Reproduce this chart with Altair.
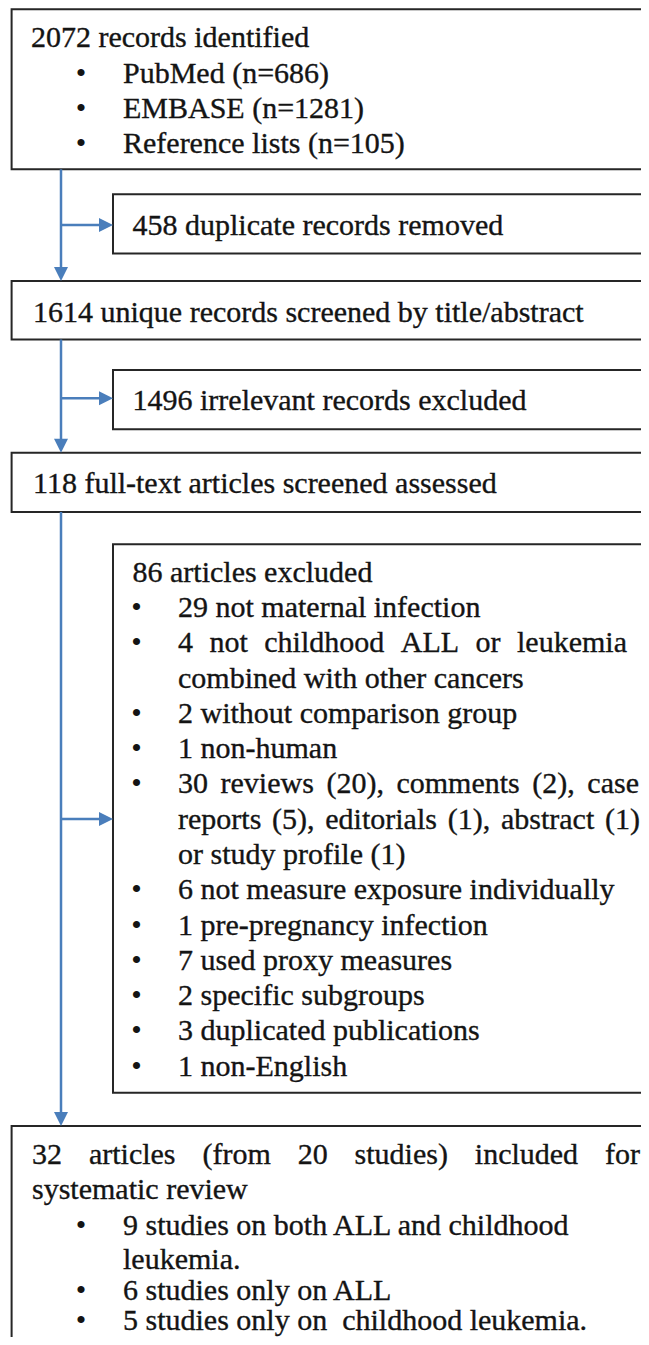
import altair as alt
import pandas as pd

# ---------------- content ----------------
records_title = "2072 records identified"
records_sources = ["PubMed (n=686)", "EMBASE (n=1281)", "Reference lists (n=105)"]
duplicates_text = "458 duplicate records removed"
screened_text = "1614 unique records screened by title/abstract"
irrelevant_text = "1496 irrelevant records excluded"
fulltext_text = "118 full-text articles screened assessed"
excluded_title = "86 articles excluded"
excluded_reasons = [
    ["29 not maternal infection"],
    ["4 not childhood ALL or leukemia", "combined with other cancers"],
    ["2 without comparison group"],
    ["1 non-human"],
    ["30 reviews (20), comments (2), case",
     "reports (5), editorials (1), abstract (1)",
     "or study profile (1)"],
    ["6 not measure exposure individually"],
    ["1 pre-pregnancy infection"],
    ["7 used proxy measures"],
    ["2 specific subgroups"],
    ["3 duplicated publications"],
    ["1 non-English"],
]
included_title = ["32 articles (from 20 studies) included for", "systematic review"]
included_groups = [
    ["9 studies on both ALL and childhood", "leukemia."],
    ["6 studies only on ALL"],
    ["5 studies only on\u00a0 childhood leukemia."],
]

# ---------------- layout (page pixels) ----------------
ORIGIN = 8
W, H = 633, 1329
FONT = "Liberation Serif"
FS = 30
TEXT_COLOR = "#141414"
BORDER = "#262626"
BLUE = "#4a7ebb"

# Times / Liberation Serif advance widths (per 1000 em)
TW = {" ": 250, "(": 333, ")": 333, ",": 250, ".": 250, "-": 333, "/": 278, "=": 564,
      "A": 722, "B": 667, "C": 667, "D": 722, "E": 611, "F": 556, "G": 722, "H": 722,
      "I": 333, "L": 611, "M": 889, "N": 722, "P": 556, "R": 667, "S": 556, "T": 611,
      "a": 444, "b": 500, "c": 444, "d": 500, "e": 444, "f": 333, "g": 500, "h": 500,
      "i": 278, "j": 278, "k": 500, "l": 278, "m": 778, "n": 500, "o": 500, "p": 500,
      "q": 500, "r": 333, "s": 389, "t": 278, "u": 500, "v": 500, "w": 722, "x": 500,
      "y": 500, "z": 444}


def text_width(s):
    return sum(TW.get(c, 500) for c in s) * FS / 1000.0


text_rows = []
bullet_rows = []


def add_line(s, x, y, justify_to=None):
    if justify_to is None:
        text_rows.append({"x": x - ORIGIN, "y": y - ORIGIN, "t": s})
        return
    words = s.split(" ")
    total = sum(text_width(w) for w in words)
    gap = (justify_to - x - total) / (len(words) - 1)
    cx = x
    for w in words:
        text_rows.append({"x": cx - ORIGIN, "y": y - ORIGIN, "t": w})
        cx += text_width(w) + gap


def add_bullet(x, y):
    bullet_rows.append({"x": x - ORIGIN, "y": y - ORIGIN, "t": "\u2022"})


# Box 1
add_line(records_title, 31, 47.3)
for i, s in enumerate(records_sources):
    yb = 82.7 + i * 35.1
    add_bullet(81, yb)
    add_line(s, 123, yb)

# single-line boxes
add_line(duplicates_text, 132.5, 235)
add_line(screened_text, 33, 321.7)
add_line(irrelevant_text, 132.5, 410)
add_line(fulltext_text, 33, 492.7)

# Box 6: exclusions
justify_ends = {"4 not childhood ALL or leukemia": 627,
                "30 reviews (20), comments (2), case": 639,
                "reports (5), editorials (1), abstract (1)": 640,
                "32 articles (from 20 studies) included for": 640}
add_line(excluded_title, 132.5, 581.7)
k = 1
for item in excluded_reasons:
    for j, s in enumerate(item):
        yb = 581.7 + k * 35.29
        if j == 0:
            add_bullet(136.6, yb)
        add_line(s, 178, yb, justify_ends.get(s))
        k += 1

# Box 7: included
inc_baselines = [1164.3, 1199.3]
for s, yb in zip(included_title, inc_baselines):
    add_line(s, 32, yb, justify_ends.get(s))
grp_baselines = [1235, 1268.5, 1299.5, 1329.5]
k = 0
for item in included_groups:
    for j, s in enumerate(item):
        yb = grp_baselines[k]
        if j == 0:
            add_bullet(81, yb)
        add_line(s, 123, yb)
        k += 1

# boxes: (left, top, bottom); right side runs off the page
BIG = 2000
boxes = [
    (11.6, 9.3, 169.3),
    (113, 194.3, 253.5),
    (11.6, 281, 339.5),
    (113, 370, 429.3),
    (11.6, 452.7, 512),
    (113, 544.3, 1092.7),
    (11.6, 1126, BIG),
]
box_df = pd.DataFrame([{"x": l - ORIGIN, "x2": BIG, "y": t - ORIGIN, "y2": b - ORIGIN}
                       for l, t, b in boxes])

# connectors
TRUNK_X = 61
HEAD = 14
down_targets = [(169.3, 281), (339.5, 452.7), (512, 1126)]
side_targets = [225, 398.3, 819]
side_tip_x = 113

rule_rows = []
down_heads = []
for top, tip in down_targets:
    rule_rows.append({"x": TRUNK_X - ORIGIN, "x2": TRUNK_X - ORIGIN,
                      "y": top - ORIGIN, "y2": tip - HEAD + 1 - ORIGIN})
    down_heads.append({"x": TRUNK_X - ORIGIN, "y": tip - HEAD / 2 - ORIGIN})
right_heads = []
for yy in side_targets:
    rule_rows.append({"x": TRUNK_X - ORIGIN, "x2": side_tip_x - HEAD + 1 - ORIGIN,
                      "y": yy - ORIGIN, "y2": yy - ORIGIN})
    right_heads.append({"x": side_tip_x - HEAD / 2 - ORIGIN, "y": yy - ORIGIN})

xs = alt.Scale(domain=[0, W], nice=False, zero=False)
ys = alt.Scale(domain=[0, H], reverse=True, nice=False, zero=False)

rects = alt.Chart(box_df).mark_rect(
    fill="transparent", stroke=BORDER, strokeWidth=2, clip=True
).encode(
    x=alt.X("x:Q", scale=xs, axis=None), x2="x2:Q",
    y=alt.Y("y:Q", scale=ys, axis=None), y2="y2:Q",
)

rules = alt.Chart(pd.DataFrame(rule_rows)).mark_rule(
    color=BLUE, strokeWidth=2.5
).encode(
    x=alt.X("x:Q", scale=xs, axis=None), x2="x2:Q",
    y=alt.Y("y:Q", scale=ys, axis=None), y2="y2:Q",
)

down = alt.Chart(pd.DataFrame(down_heads)).mark_point(
    shape="M-1,-1L1,-1L0,1Z", filled=True, size=HEAD * HEAD, color=BLUE, opacity=1
).encode(
    x=alt.X("x:Q", scale=xs, axis=None),
    y=alt.Y("y:Q", scale=ys, axis=None),
)

right = alt.Chart(pd.DataFrame(right_heads)).mark_point(
    shape="M-1,-1L1,0L-1,1Z", filled=True, size=HEAD * HEAD, color=BLUE, opacity=1
).encode(
    x=alt.X("x:Q", scale=xs, axis=None),
    y=alt.Y("y:Q", scale=ys, axis=None),
)

texts = alt.Chart(pd.DataFrame(text_rows)).mark_text(
    align="left", baseline="alphabetic", font=FONT, fontSize=FS, color=TEXT_COLOR,
    stroke=TEXT_COLOR, strokeWidth=0.35
).encode(
    x=alt.X("x:Q", scale=xs, axis=None),
    y=alt.Y("y:Q", scale=ys, axis=None),
    text="t:N",
)

bullets = alt.Chart(pd.DataFrame(bullet_rows)).mark_text(
    align="center", baseline="alphabetic", font=FONT, fontSize=FS, color=TEXT_COLOR
).encode(
    x=alt.X("x:Q", scale=xs, axis=None),
    y=alt.Y("y:Q", scale=ys, axis=None),
    text="t:N",
)

chart = alt.layer(rects, rules, down, right, texts, bullets).properties(
    width=W, height=H, padding=0,
    autosize=alt.AutoSizeParams(type="none"),
    background="white",
).configure_view(stroke=None)

chart.save("out.html", embed_options={"renderer": "svg", "actions": False})
